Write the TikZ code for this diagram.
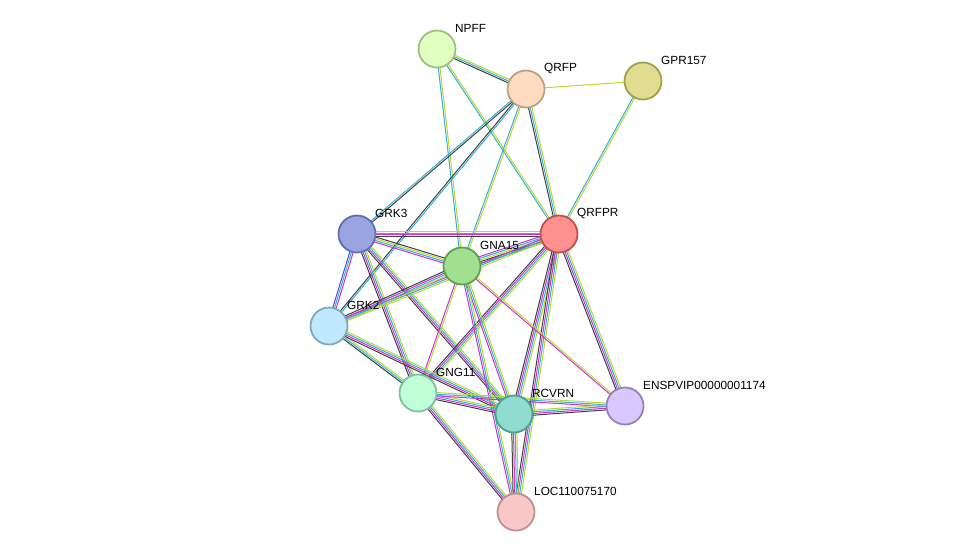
\documentclass[tikz,border=0pt]{standalone}
\usepackage{fontspec}
\setmainfont{Liberation Sans}
\usetikzlibrary{calc}
\definecolor{eY}{HTML}{B8D830}
\definecolor{eC}{HTML}{30B0D8}
\definecolor{eM}{HTML}{D030D0}
\definecolor{eK}{HTML}{404040}
\definecolor{eB}{HTML}{4050E0}
\definecolor{eG}{HTML}{40B040}
\newcommand{\edg}[3]{%
  \foreach \col [count=\i] in {#3} {\xdef\nn{\i}}%
  \foreach \col [count=\i] in {#3} {%
    \pgfmathsetmacro{\off}{(\i-(\nn+1)/2)*1.7}%
    \draw[color=\col,line width=1pt] ($(#1)!\off pt!90:(#2)$) -- ($(#2)!\off pt!-90:(#1)$);}}
\tikzset{pn/.style={circle,minimum size=37pt,inner sep=0pt,line width=1.8pt},
 lb/.style={font=\fontsize{11.8}{12}\selectfont,anchor=west,text=black,inner sep=0pt}}
\begin{document}
\begin{tikzpicture}[x=1pt,y=-1pt]
\useasboundingbox (0,0) rectangle (976,558);
\coordinate (NPFF) at (437,49);
\coordinate (QRFP) at (526,89);
\coordinate (GPR) at (643,81);
\coordinate (GRK3) at (357,234);
\coordinate (QRFPR) at (559,234);
\coordinate (GNA) at (462,266);
\coordinate (GRK2) at (329,326);
\coordinate (GNG) at (418,393);
\coordinate (RCV) at (514,414);
\coordinate (ENS) at (625,406);
\coordinate (LOC) at (516,512);
\edg{NPFF}{QRFP}{eK,eC,eY}
\edg{NPFF}{QRFPR}{eC,eY}
\edg{NPFF}{GNA}{eC,eY}
\edg{QRFP}{GPR}{eY}
\edg{QRFP}{QRFPR}{eK,eC,eY}
\edg{QRFP}{GRK3}{eC,eK}
\edg{QRFP}{GRK2}{eK,eC}
\edg{QRFP}{GNA}{eC,eY}
\edg{GPR}{QRFPR}{eC,eY}
\edg{GRK3}{QRFPR}{eK,eM,eC,eY}
\edg{GRK3}{GNA}{eM,eC,eY,eK}
\edg{GRK3}{GRK2}{eB,eC,eM}
\edg{GRK3}{GNG}{eK,eM,eC,eY}
\edg{GRK3}{RCV}{eK,eM,eC,eY}
\edg{QRFPR}{GNA}{eM,eC,eY,eK,eG}
\edg{QRFPR}{GRK2}{eM,eC,eY}
\edg{QRFPR}{GNG}{eK,eM,eC,eY}
\edg{QRFPR}{RCV}{eK,eM,eC,eY}
\edg{QRFPR}{ENS}{eK,eM,eC,eY}
\edg{QRFPR}{LOC}{eK,eM,eC,eY}
\edg{GNA}{GRK2}{eK,eM,eC,eY}
\edg{GNA}{GNG}{eM,eY}
\edg{GNA}{RCV}{eM,eC,eY}
\edg{GNA}{ENS}{eM,eY}
\edg{GNA}{LOC}{eM,eC,eY}
\edg{GRK2}{GNG}{eK,eC,eY}
\edg{GRK2}{RCV}{eK,eM,eC,eY}
\edg{GNG}{LOC}{eK,eM,eC,eY}
\edg{GNG}{RCV}{eK,eM,eC,eY}
\edg{GNG}{ENS}{eM,eC,eY}
\edg{RCV}{ENS}{eK,eM,eC,eY}
\edg{RCV}{LOC}{eK,eM,eC,eY}
\node[pn,fill={rgb,255:red,224;green,255;blue,192},draw={rgb,255:red,160;green,192;blue,128}] (nNPFF) at (NPFF) {};
\node[pn,fill={rgb,255:red,255;green,220;blue,192},draw={rgb,255:red,192;green,160;blue,128}] (nQRFP) at (QRFP) {};
\node[pn,fill={rgb,255:red,224;green,220;blue,144},draw={rgb,255:red,160;green,160;blue,80}] (nGPR) at (GPR) {};
\node[pn,fill={rgb,255:red,154;green,164;blue,224},draw={rgb,255:red,96;green,112;blue,176}] (nGRK3) at (GRK3) {};
\node[pn,fill={rgb,255:red,255;green,144;blue,144},draw={rgb,255:red,192;green,80;blue,80}] (nQRFPR) at (QRFPR) {};
\node[pn,fill={rgb,255:red,160;green,224;blue,144},draw={rgb,255:red,96;green,160;blue,80}] (nGNA) at (GNA) {};
\node[pn,fill={rgb,255:red,192;green,232;blue,255},draw={rgb,255:red,128;green,168;blue,192}] (nGRK2) at (GRK2) {};
\node[pn,fill={rgb,255:red,192;green,255;blue,216},draw={rgb,255:red,128;green,192;blue,160}] (nGNG) at (GNG) {};
\node[pn,fill={rgb,255:red,144;green,220;blue,208},draw={rgb,255:red,80;green,160;blue,144}] (nRCV) at (RCV) {};
\node[pn,fill={rgb,255:red,216;green,200;blue,255},draw={rgb,255:red,152;green,128;blue,192}] (nENS) at (ENS) {};
\node[pn,fill={rgb,255:red,248;green,200;blue,200},draw={rgb,255:red,192;green,144;blue,144}] (nLOC) at (LOC) {};
\node[lb] (tNPFF) at (455,28) {NPFF};
\node[lb] (tQRFP) at (544,68) {QRFP};
\node[lb] (tGPR) at (661,60) {GPR157};
\node[lb] (tGRK3) at (375,213) {GRK3};
\node[lb] (tQRFPR) at (577,213) {QRFPR};
\node[lb] (tGNA) at (480,245) {GNA15};
\node[lb] (tGRK2) at (347,305) {GRK2};
\node[lb] (tGNG) at (436,372) {GNG11};
\node[lb] (tRCV) at (532,393) {RCVRN};
\node[lb] (tENS) at (643,385) {ENSPVIP00000001174};
\node[lb] (tLOC) at (534,491) {LOC110075170};
\end{tikzpicture}
\end{document}
